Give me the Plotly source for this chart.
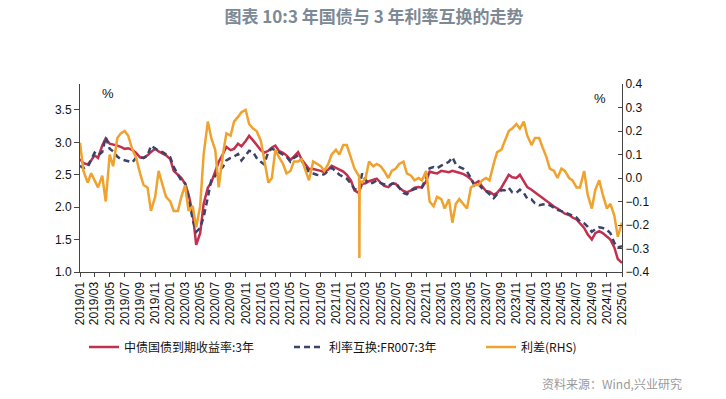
import pandas as pd
import plotly.graph_objects as go

# semi-monthly observation dates, 2019-01-01 .. 2025-01-01
dates = pd.date_range("2019-01-01", "2025-01-01", freq="SMS")

bond_3y = [
    2.74, 2.68, 2.66, 2.72, 2.80, 2.76, 2.95, 3.06, 2.98, 2.97, 2.95, 2.93,
    2.90, 2.91, 2.88, 2.84, 2.77, 2.76, 2.80, 2.85, 2.90, 2.86, 2.83, 2.80,
    2.74, 2.56, 2.50, 2.45, 2.36, 2.20, 1.90, 1.42, 1.60, 2.05, 2.30, 2.38,
    2.55, 2.70, 2.82, 2.93, 2.88, 2.90, 2.98, 2.94, 3.02, 3.10, 3.03, 2.97,
    2.88, 2.84, 2.87, 2.92, 2.95, 2.87, 2.84, 2.80, 2.73, 2.78, 2.85, 2.74,
    2.65, 2.59, 2.59, 2.58, 2.56, 2.54, 2.58, 2.64, 2.61, 2.58, 2.55, 2.50,
    2.41, 2.26, 2.22, 2.36, 2.37, 2.40, 2.42, 2.44, 2.38, 2.33, 2.31, 2.36,
    2.36, 2.30, 2.25, 2.23, 2.26, 2.30, 2.31, 2.30, 2.40, 2.55, 2.53, 2.52,
    2.56, 2.55, 2.54, 2.56, 2.55, 2.53, 2.51, 2.48, 2.43, 2.36, 2.40, 2.32,
    2.25, 2.24, 2.19, 2.22, 2.30, 2.40, 2.50, 2.46, 2.45, 2.50, 2.40, 2.31,
    2.27, 2.23, 2.18, 2.13, 2.09, 2.06, 2.01, 1.98, 1.94, 1.90, 1.88, 1.84,
    1.81, 1.75, 1.68, 1.58, 1.50, 1.60, 1.63, 1.60, 1.55, 1.50, 1.38, 1.20,
    1.14,
]

swap_fr007_3y = [
    2.64, 2.60, 2.62, 2.74, 2.84, 2.80, 2.85, 3.08, 2.90, 2.86, 2.78, 2.74,
    2.72, 2.70, 2.69, 2.76, 2.77, 2.76, 2.79, 2.95, 2.90, 2.87, 2.85, 2.81,
    2.77, 2.62, 2.50, 2.41, 2.37, 2.15, 1.80, 1.62, 1.68, 1.85, 2.15, 2.42,
    2.48, 2.56, 2.62, 2.72, 2.76, 2.78, 2.82, 2.72, 2.80, 2.87, 2.85, 2.76,
    2.70, 2.66, 2.86, 2.90, 2.88, 2.85, 2.81, 2.78, 2.70, 2.76, 2.80, 2.72,
    2.62, 2.54, 2.52, 2.50, 2.49, 2.51, 2.56, 2.61, 2.55, 2.50, 2.47, 2.44,
    2.36, 2.28, 2.26, 2.52, 2.42, 2.36, 2.38, 2.41, 2.37, 2.35, 2.33, 2.36,
    2.38, 2.30, 2.22, 2.20, 2.26, 2.28, 2.30, 2.31, 2.45, 2.60, 2.62, 2.60,
    2.64, 2.67, 2.70, 2.77, 2.66, 2.62, 2.59, 2.55, 2.45, 2.33, 2.35, 2.29,
    2.25, 2.20, 2.14, 2.20, 2.26, 2.26, 2.30, 2.23, 2.22, 2.27, 2.22, 2.13,
    2.12, 2.06, 2.03, 2.04, 2.05, 2.03, 1.99, 1.96, 1.94, 1.92, 1.90, 1.87,
    1.84, 1.78, 1.75, 1.70, 1.62, 1.66, 1.69, 1.68, 1.65, 1.60, 1.45, 1.38,
    1.40,
]

spread_rhs = [
    0.15, 0.03, -0.02, 0.02, -0.01, -0.04, 0.01, -0.10, 0.10, 0.05, 0.17, 0.19,
    0.20, 0.18, 0.12, 0.09, 0.02, -0.03, -0.04, -0.14, -0.08, 0.03, -0.03, -0.08,
    -0.10, -0.14, -0.14, -0.08, -0.03, -0.14, -0.12, -0.21, -0.12, 0.10, 0.24, 0.17,
    0.12, -0.04, 0.10, 0.19, 0.18, 0.24, 0.26, 0.28, 0.29, 0.23, 0.21, 0.20,
    0.16, 0.08, -0.02, 0.00, 0.12, 0.09, 0.06, 0.02, 0.03, 0.07, 0.07, 0.08,
    0.03, -0.01, 0.07, 0.06, 0.05, 0.03, 0.06, 0.10, 0.12, 0.10, 0.14, 0.14,
    0.09, 0.04, 0.01, -0.02, 0.00, 0.07, 0.05, 0.06, 0.05, 0.03, 0.00, 0.03,
    0.04, 0.06, 0.07, 0.02, 0.01, -0.01, 0.00, -0.01, 0.03, -0.10, -0.12, -0.08,
    -0.09, -0.13, -0.09, -0.19, -0.11, -0.09, -0.11, -0.13, -0.04, -0.03, -0.03, -0.01,
    0.00, -0.01, 0.06, 0.11, 0.12, 0.16, 0.20, 0.21, 0.23, 0.21, 0.24, 0.18,
    0.14, 0.17, 0.17, 0.13, 0.09, 0.04, 0.03, 0.00, 0.04, 0.03, 0.00, -0.01,
    -0.04, -0.04, 0.03, -0.07, -0.13, -0.05, -0.01, -0.07, -0.13, -0.11, -0.16, -0.25,
    -0.19,
]

# isolated one-day drop in the spread
spike_dates = ["2022-02-03", "2022-02-04", "2022-02-05"]
spike_values = [0.01, -0.34, -0.01]

tick_dates = pd.date_range("2019-01-01", "2025-01-01", freq="2MS")
tick_text = [d.strftime("%Y/%m") for d in tick_dates]

left_ticks = [1.0, 1.5, 2.0, 2.5, 3.0, 3.5]
right_ticks = [-0.4, -0.3, -0.2, -0.1, 0.0, 0.1, 0.2, 0.3, 0.4]

spread_df = pd.concat([
    pd.DataFrame({"d": dates, "v": spread_rhs}),
    pd.DataFrame({"d": pd.to_datetime(spike_dates), "v": spike_values}),
]).sort_values("d")

RED = "#c2304f"
NAVY = "#3b4468"
ORANGE = "#f0a22e"

W, H = 726, 399
PL, PR, PT, PB = 80, 622, 84, 272   # plot area in px


def px_x(sx):
    return (sx - PL) / (PR - PL)


def px_y(sy):
    return (PB - sy) / (PB - PT)


fig = go.Figure()
fig.add_trace(go.Scatter(x=dates, y=bond_3y, mode="lines", name="中债国债到期收益率:3年",
                         line=dict(color=RED, width=2.5), legend="legend"))
fig.add_trace(go.Scatter(x=dates, y=swap_fr007_3y, mode="lines", name="利率互换:FR007:3年",
                         line=dict(color=NAVY, width=2.5, dash="6px,4px"), legend="legend2"))
fig.add_trace(go.Scatter(x=spread_df["d"], y=spread_df["v"], mode="lines", name="利差(RHS)",
                         line=dict(color=ORANGE, width=2.5), yaxis="y2", legend="legend3"))

axis_font = dict(family="Liberation Sans, Arial, sans-serif", size=12, color="#111")
leg_font = dict(family="Noto Sans CJK SC", size=12, color="#111")


def leg(sx):
    return dict(orientation="h", x=px_x(sx), xanchor="left", y=px_y(347), yanchor="middle",
                font=leg_font, itemwidth=30, bgcolor="rgba(0,0,0,0)")


fig.update_layout(
    width=W, height=H,
    margin=dict(l=PL, r=W - PR, t=PT, b=H - PB),
    paper_bgcolor="white", plot_bgcolor="white",
    showlegend=True,
    title=dict(text="图表 10:3 年国债与 3 年利率互换的走势", x=374 / W, xanchor="center",
               y=1 - 17.5 / H, yanchor="middle",
               font=dict(family="Noto Sans CJK SC", size=17, color="#7d8995", weight="bold")),
    xaxis=dict(type="date", range=["2019-01-01", "2025-01-01"],
               tickvals=tick_dates, ticktext=tick_text, tickangle=-90,
               ticks="outside", ticklen=4, tickcolor="#444",
               showline=True, linecolor="#444", linewidth=1,
               showgrid=False, zeroline=False, tickfont=axis_font),
    yaxis=dict(range=[1.0, 3.9], tickvals=left_ticks, tickformat=".1f",
               ticks="outside", ticklen=5, tickcolor="#444",
               showline=True, linecolor="#444", linewidth=1,
               showgrid=False, zeroline=False, tickfont=axis_font),
    yaxis2=dict(range=[-0.4, 0.4], tickvals=right_ticks, tickformat=".1f",
                overlaying="y", side="right", anchor="x",
                ticks="inside", ticklen=4, tickcolor="#444",
                showline=True, linecolor="#444", linewidth=1,
                showgrid=False, zeroline=False, tickfont=axis_font),
    legend=leg(84),
    legend2=leg(289),
    legend3=leg(481),
    annotations=[
        dict(text="%", xref="paper", yref="paper", x=px_x(108), y=px_y(93),
             xanchor="center", yanchor="middle",
             showarrow=False, font=dict(family="Liberation Sans", size=13, color="#111")),
        dict(text="%", xref="paper", yref="paper", x=px_x(600), y=px_y(98),
             xanchor="center", yanchor="middle",
             showarrow=False, font=dict(family="Liberation Sans", size=13, color="#111")),
        dict(text="资料来源：Wind,兴业研究", xref="paper", yref="paper",
             x=px_x(684), y=px_y(383), xanchor="right", yanchor="middle",
             showarrow=False, font=dict(family="Noto Sans CJK SC", size=12, color="#9a9a9a")),
    ],
)

# remove the browser's default 8px page margin so the figure sits at the window origin
fig.write_html("out.html", config={"displayModeBar": False},
               post_script="document.body.style.margin='0';document.body.style.overflow='hidden';")
